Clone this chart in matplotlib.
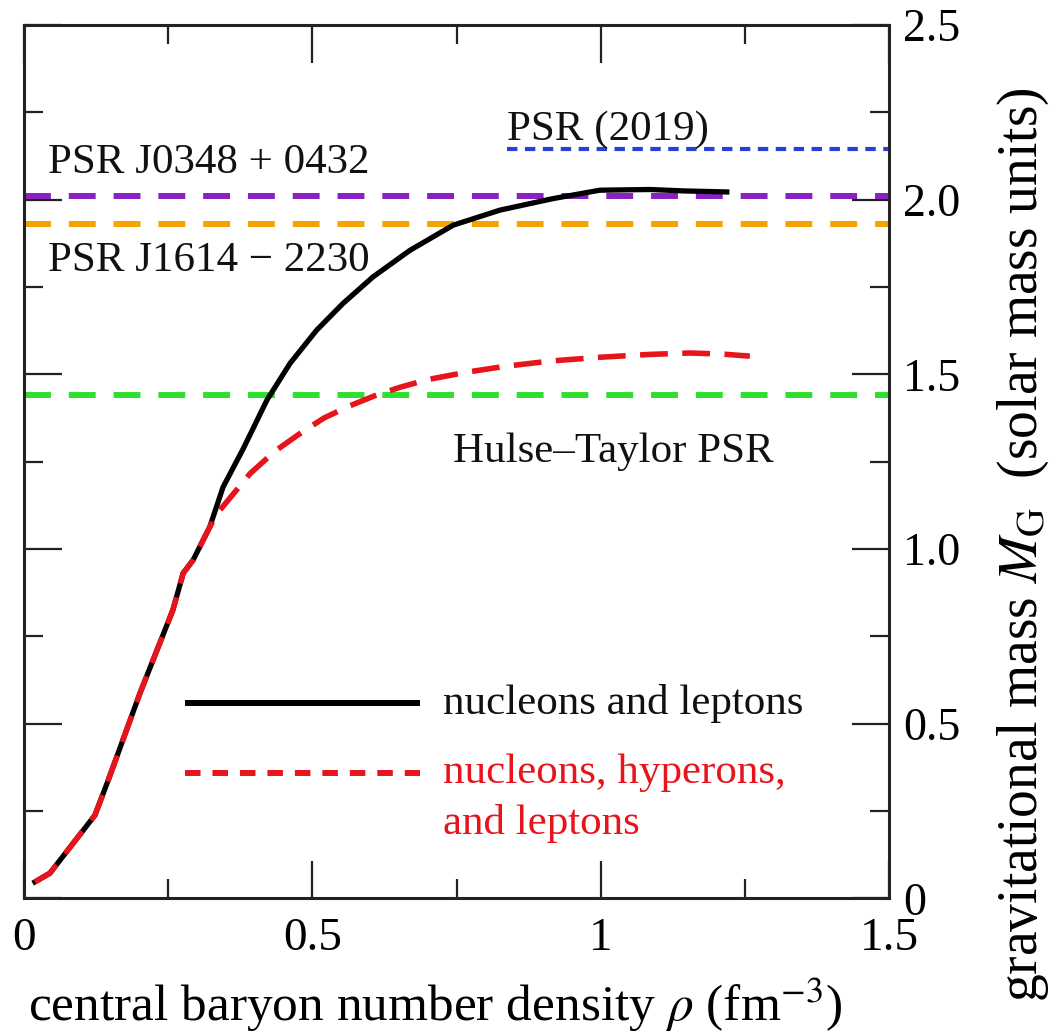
import numpy as np
import matplotlib
matplotlib.use("Agg")
import matplotlib.pyplot as plt
from matplotlib.ticker import MultipleLocator, FixedFormatter, FixedLocator

plt.rcParams['font.family'] = ['Liberation Serif', 'DejaVu Serif']
plt.rcParams['mathtext.fontset'] = 'stix'

# --- data ---
# nucleons and leptons (solid black)
rho_nl = [0.019, 0.045, 0.123, 0.146, 0.201, 0.258, 0.276, 0.293, 0.322, 0.345,
          0.380, 0.421, 0.461, 0.507, 0.553, 0.605, 0.669, 0.744, 0.825, 0.917,
          0.998, 1.085, 1.143, 1.218]
mass_nl = [0.047, 0.072, 0.238, 0.338, 0.587, 0.825, 0.931, 0.968, 1.063, 1.177,
           1.287, 1.426, 1.531, 1.626, 1.703, 1.779, 1.855, 1.927, 1.970, 2.003,
           2.027, 2.029, 2.025, 2.022]

# nucleons, hyperons and leptons (red dashed)
rho_nhl = [0.019, 0.045, 0.123, 0.146, 0.201, 0.258, 0.276, 0.293, 0.322, 0.334,
           0.392, 0.435, 0.478, 0.520, 0.565, 0.610, 0.652, 0.700, 0.767, 0.830,
           0.912, 1.000, 1.085, 1.154, 1.210, 1.258]
mass_nhl = [0.047, 0.072, 0.238, 0.338, 0.587, 0.825, 0.931, 0.968, 1.063, 1.100,
            1.216, 1.280, 1.330, 1.375, 1.410, 1.440, 1.463, 1.485, 1.506, 1.522,
            1.538, 1.549, 1.557, 1.561, 1.558, 1.552]

# observed pulsar masses (horizontal reference lines)
psr_names = ['PSR (2019)', 'PSR J0348 + 0432', 'PSR J1614 \u2212 2230', 'Hulse\u2013Taylor PSR']
psr_mass = [2.145, 2.011, 1.930, 1.441]
psr_start = [0.837, 0.0, 0.0, 0.0]
psr_colors = ['#2a3fd8', '#8a1fc4', '#f5a300', '#2ee02e']
psr_dash = [(2.5, 1.8), (4.5, 3.0), (4.5, 3.0), (4.5, 3.0)]
psr_lw = [3.0, 4.3, 4.3, 4.3]
# label anchors (left edge, baseline)
psr_label_x = [0.837, 0.042, 0.042, 0.744]
psr_label_y = [2.171, 2.077, 1.797, 1.250]

x_ticks = [0, 0.5, 1, 1.5]
x_ticklabels = ['0', '0.5', '1', '1.5']
y_ticks = [0, 0.5, 1.0, 1.5, 2.0, 2.5]
y_ticklabels = ['0', '0.5', '1.0', '1.5', '2.0', '2.5']

fig = plt.figure(figsize=(10.56, 10.36), dpi=100)
ax = fig.add_axes([0.0227, 0.1329, 0.8196, 0.843])

# reference lines
for m, x0, c, d, lw in zip(psr_mass, psr_start, psr_colors, psr_dash, psr_lw):
    ax.plot([x0, 1.5], [m, m], color=c, lw=lw, dashes=d, solid_capstyle='butt',
            dash_capstyle='butt', zorder=2)

# curves
ax.plot(rho_nl, mass_nl, color='black', lw=3.8, zorder=3)
ax.plot(rho_nhl, mass_nhl, color='#e8141c', lw=4.0, dashes=(5.0, 2.6),
        dash_capstyle='butt', zorder=4)

# pulsar labels
for name, lx, ly in zip(psr_names, psr_label_x, psr_label_y):
    ax.text(lx, ly, name, fontsize=31, ha='left', va='baseline', color='#111111')

# hand-drawn legend keys
ax.plot([0.186, 0.458], [0.2236, 0.2236], transform=ax.transAxes,
        color='black', lw=4.3, solid_capstyle='butt')
ax.text(0.484, 0.2236, 'nucleons and leptons', transform=ax.transAxes,
        fontsize=31, ha='left', va='center', color='#111111')
ax.plot([0.186, 0.458], [0.1435, 0.1435], transform=ax.transAxes,
        color='#e8141c', lw=4.3, dashes=(2.6, 2.0), dash_capstyle='butt')
ax.text(0.484, 0.1435, 'nucleons, hyperons,', transform=ax.transAxes,
        fontsize=31, ha='left', va='center', color='#e8141c')
ax.text(0.484, 0.086, 'and leptons', transform=ax.transAxes,
        fontsize=31, ha='left', va='center', color='#e8141c')

ax.set_xlim(0, 1.5)
ax.set_ylim(0, 2.5)

ax.xaxis.set_major_locator(FixedLocator(x_ticks))
ax.xaxis.set_major_formatter(FixedFormatter(x_ticklabels))
ax.xaxis.set_minor_locator(MultipleLocator(0.25))
ax.yaxis.set_major_locator(FixedLocator(y_ticks))
ax.yaxis.set_major_formatter(FixedFormatter(y_ticklabels))
ax.yaxis.set_minor_locator(MultipleLocator(0.25))

ax.tick_params(which='both', direction='in', top=True, right=True, left=True,
               bottom=True, width=1.6, color='#222222')
ax.tick_params(which='major', length=27)
ax.tick_params(which='minor', length=13.5)
ax.tick_params(axis='x', which='major', labelsize=34, pad=14)
ax.tick_params(axis='y', which='major', labelsize=33, pad=10,
               labelleft=False, labelright=True)

for sp in ax.spines.values():
    sp.set_linewidth(2.2)
    sp.set_color('#222222')

ax.set_xlabel(r'central baryon number density $\rho$ (fm$^{-3}$)', fontsize=37)
ax.xaxis.set_label_coords(0.475, -0.122)
ax.xaxis.label.set_va('center')

ax.yaxis.set_label_position('right')
ax.set_ylabel(r'gravitational mass $M_{\mathrm{G}}$  (solar mass units)', fontsize=40,
              rotation=90)
ax.yaxis.set_label_coords(1.155, 0.405)
ax.yaxis.label.set_va('center')

fig.savefig('out.png', dpi=100)
